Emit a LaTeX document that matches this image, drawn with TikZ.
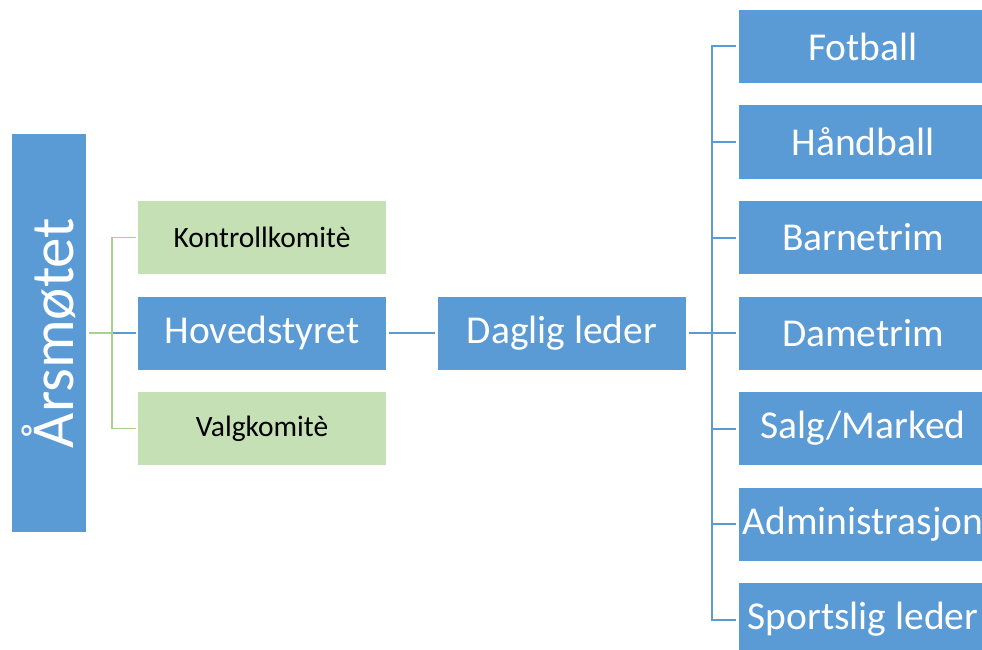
\documentclass[tikz,border=0pt]{standalone}
\usepackage{fontspec}
\setmainfont{Carlito}
\definecolor{orgblue}{HTML}{5B9BD5}
\definecolor{orggreen}{HTML}{C5E0B4}
\definecolor{orgline}{HTML}{A9D18E}
\tikzset{
  bluebox/.style={fill=orgblue, text=white, inner sep=0pt, minimum width=248pt, minimum height=73pt, font=\fontsize{39.5}{46}\selectfont},
  greenbox/.style={fill=orggreen, text=black, inner sep=0pt, minimum width=248pt, minimum height=73pt, font=\fontsize{29.5}{35}\selectfont},
  blueline/.style={draw=orgblue, line width=2pt},
  greenline/.style={draw=orgline, line width=1.6pt},
}
\begin{document}
\begin{tikzpicture}[x=1pt, y=-1pt]

  % canvas 982x650, boxes on the right are cut at the edge
  \clip (0,0) rectangle (982,650);

  %% ════ left: Årsmøtet and the three boxes ════
  % rotated node: its south anchor sits on the right side
  \node[bluebox, rotate=90, minimum width=398pt, minimum height=74pt, font=\fontsize{61}{68}\selectfont] (aars) at (49,333) {Årsmøtet};
  \node[greenbox] (kontroll) at (262,237.5) {Kontrollkomitè};
  \node[bluebox]  (hoved)    at (262,333)   {Hovedstyret};
  \node[greenbox] (valg)     at (262,428.5) {Valgkomitè};

  %% ════ middle ════
  \node[bluebox] (daglig) at (562,333) {Daglig leder};

  %% ════ right column ════
  \node[bluebox] (fotball)   at (863,46.5)  {Fotball};
  \node[bluebox] (handball)  at (863,142)   {Håndball};
  \node[bluebox] (barnetrim) at (863,237.5) {Barnetrim};
  \node[bluebox] (dametrim)  at (863,333)   {Dametrim};
  \node[bluebox] (salg)      at (863,428.5) {Salg/Marked};
  \node[bluebox] (admin)     at (863,524)   {Administrasjon};
  \node[bluebox] (sportslig) at (863,619.5) {Sportslig leder};

  %% ════ connectors ════
  \coordinate (gbranch) at (112,333);
  \coordinate (trunk)   at (712,333);

  \draw[blueline] ([xshift=3pt]aars.south) -- ([xshift=-2pt]hoved.west);
  \draw[greenline] ([xshift=3pt]aars.south) -- (gbranch) |- ([xshift=-2pt]kontroll.west);
  \draw[greenline] (gbranch) |- ([xshift=-2pt]valg.west);

  \draw[blueline] ([xshift=3pt]hoved.east) -- ([xshift=-3pt]daglig.west);
  \draw[blueline] ([xshift=3pt]daglig.east) -- ([xshift=-3pt]dametrim.west);
  \foreach \n in {fotball,handball,barnetrim,salg,admin,sportslig}
    \draw[blueline] ([xshift=-3pt]\n.west) -| (trunk);
\end{tikzpicture}
\end{document}
